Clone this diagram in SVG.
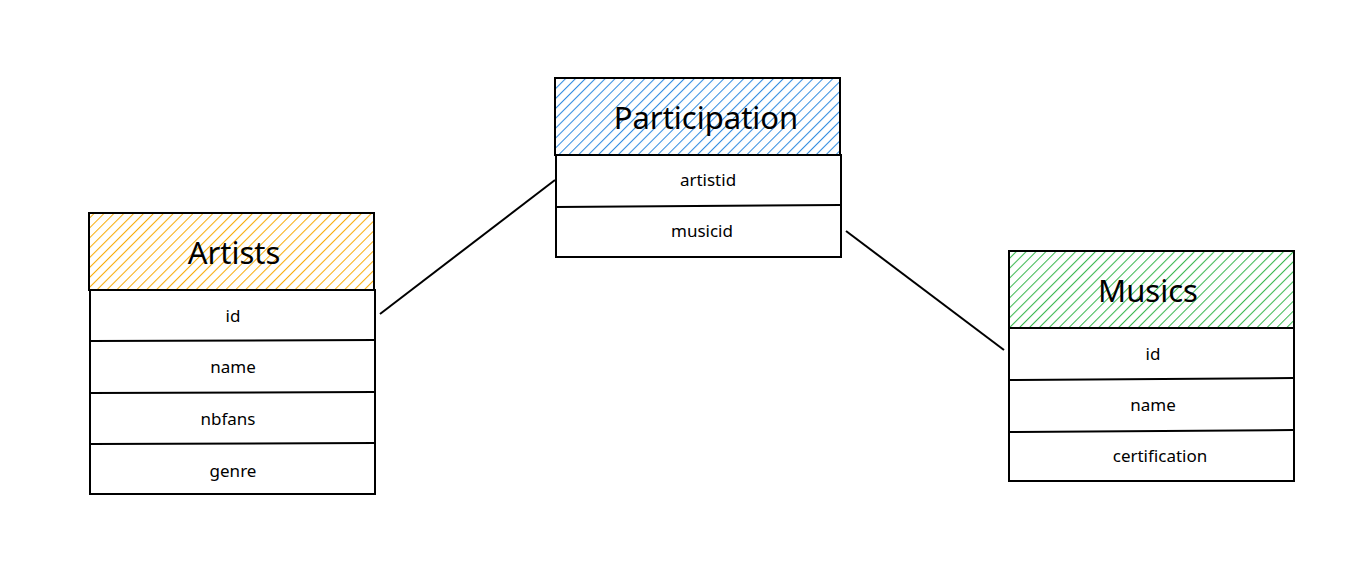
<svg xmlns="http://www.w3.org/2000/svg" width="1370" height="577" viewBox="0 0 1370 577">
<defs>
<pattern id="hOrange" patternUnits="userSpaceOnUse" width="7" height="7" patternTransform="rotate(45)">
<line x1="0" y1="0" x2="0" y2="7" stroke="#f8ad0c" stroke-width="2.1"/>
</pattern>
<pattern id="hBlue" patternUnits="userSpaceOnUse" width="7" height="7" patternTransform="rotate(45)">
<line x1="0" y1="0" x2="0" y2="7" stroke="#338de0" stroke-width="2.1"/>
</pattern>
<pattern id="hGreen" patternUnits="userSpaceOnUse" width="7" height="7" patternTransform="rotate(45)">
<line x1="0" y1="0" x2="0" y2="7" stroke="#3cb851" stroke-width="2.1"/>
</pattern>
</defs>
<style>
.box{fill:#fff;stroke:#000;stroke-width:2}
.sep{stroke:#000;stroke-width:2;fill:none}
.title{font-family:"Noto Sans","DejaVu Sans",sans-serif;font-size:31px;fill:#000;text-anchor:middle;dominant-baseline:central}
.field{font-family:"Noto Sans","DejaVu Sans",sans-serif;font-size:17px;fill:#000;text-anchor:middle;dominant-baseline:central}
.conn{stroke:#000;stroke-width:2;fill:none}
</style>
<rect width="1370" height="577" fill="#fff"/>
<g id="connectors">
<line class="conn" x1="380" y1="314" x2="555" y2="180"/>
<line class="conn" x1="846" y1="231" x2="1004" y2="350"/>
</g>
<g id="artists">
<rect x="90" y="290" width="285" height="204" class="box"/>
<rect x="89" y="213" width="285" height="77" fill="url(#hOrange)" stroke="#000" stroke-width="2"/>
<line class="sep" x1="90" y1="341" x2="375" y2="340"/>
<line class="sep" x1="90" y1="393" x2="374" y2="392"/>
<line class="sep" x1="90" y1="444" x2="375" y2="443"/>
<text class="title" x="234" y="252">Artists</text>
<text class="field" x="233" y="315">id</text>
<text class="field" x="233" y="366">name</text>
<text class="field" x="228" y="418">nbfans</text>
<text class="field" x="233" y="470">genre</text>
</g>
<g id="participation">
<rect x="556" y="155" width="285" height="102" class="box"/>
<rect x="555" y="78" width="285" height="77" fill="url(#hBlue)" stroke="#000" stroke-width="2"/>
<line class="sep" x1="556" y1="207" x2="840" y2="205"/>
<text class="title" x="706" y="117">Participation</text>
<text class="field" x="708" y="179">artistid</text>
<text class="field" x="702" y="230">musicid</text>
</g>
<g id="musics">
<rect x="1009" y="328" width="285" height="153" class="box"/>
<rect x="1009" y="251" width="285" height="77" fill="url(#hGreen)" stroke="#000" stroke-width="2"/>
<line class="sep" x1="1009" y1="380" x2="1293" y2="378"/>
<line class="sep" x1="1009" y1="432" x2="1293" y2="430"/>
<text class="title" x="1148" y="290">Musics</text>
<text class="field" x="1153" y="353">id</text>
<text class="field" x="1153" y="404">name</text>
<text class="field" x="1160" y="455">certification</text>
</g>
</svg>
